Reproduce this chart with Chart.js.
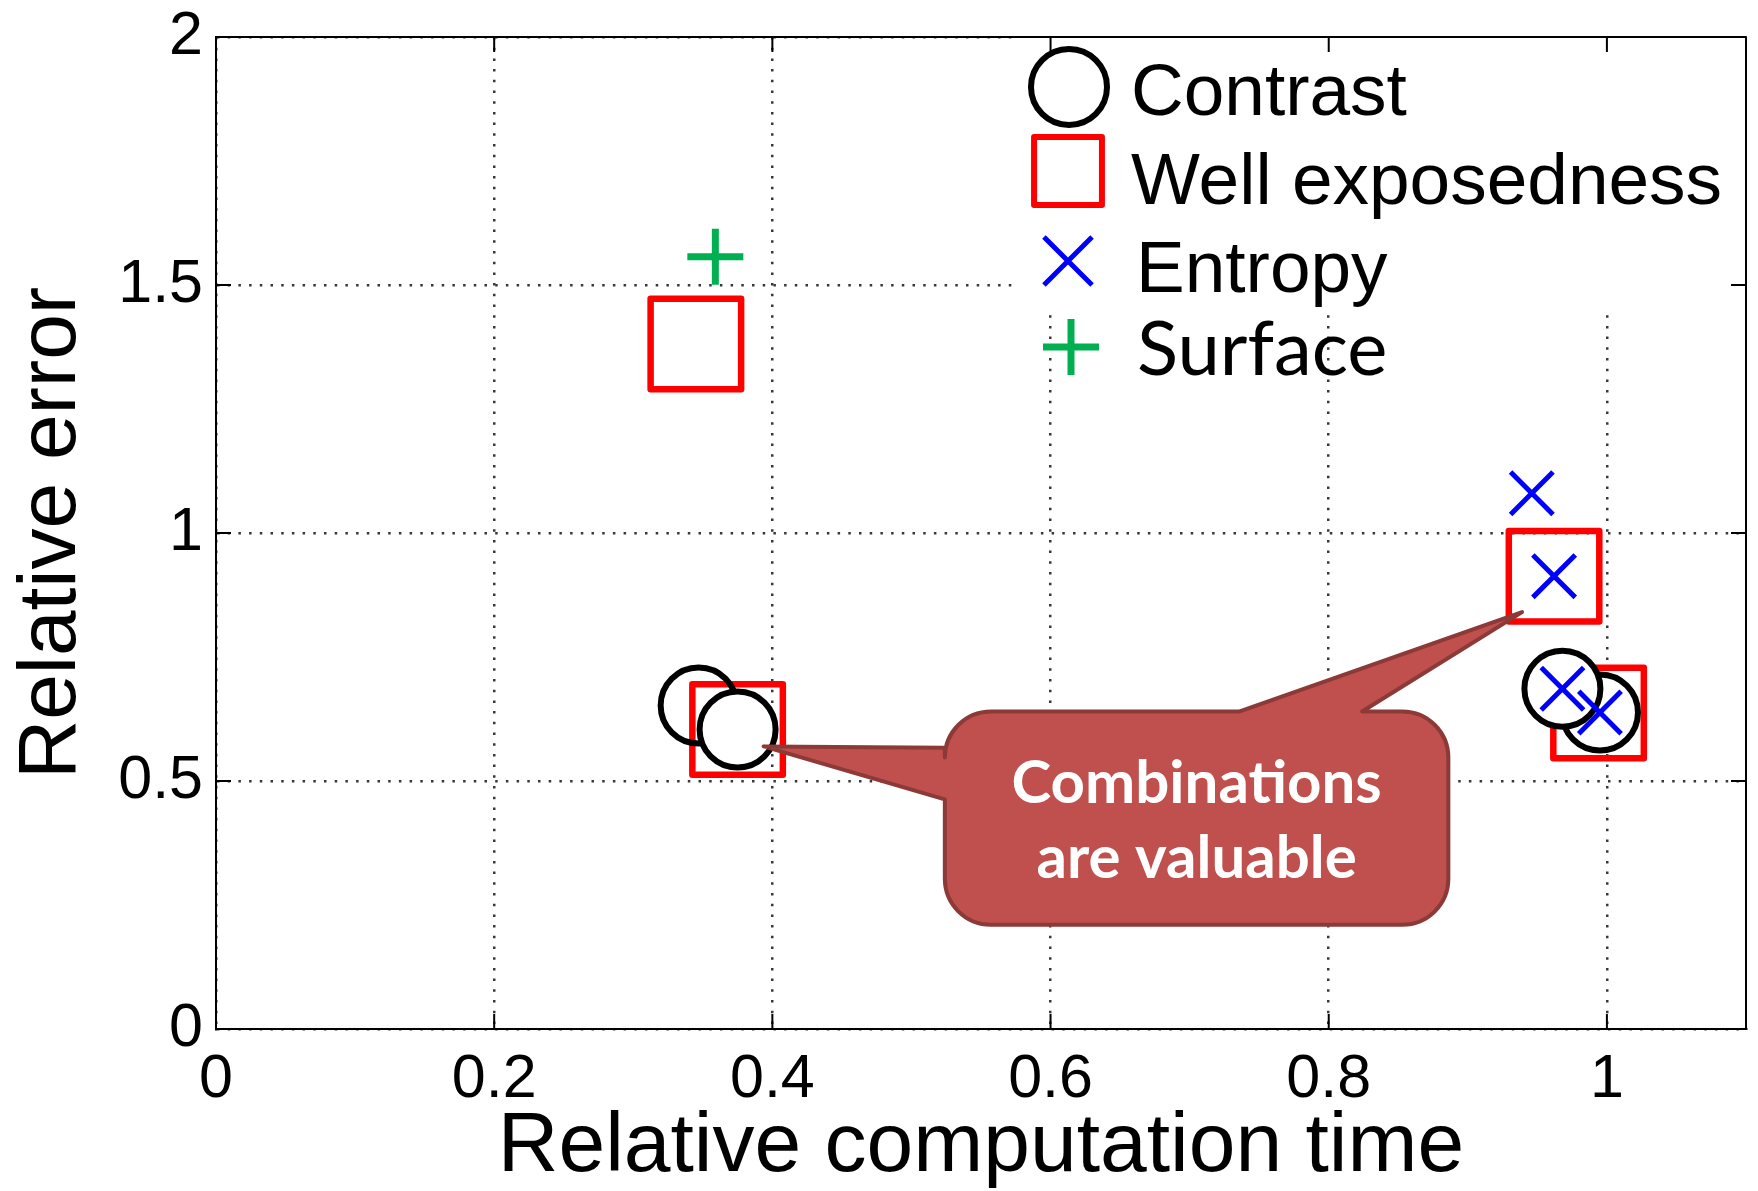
<!DOCTYPE html>
<html>
<head>
<meta charset="utf-8">
<title>Relative error vs. relative computation time</title>
<script src="https://cdn.jsdelivr.net/npm/chart.js@4.4.1/dist/chart.umd.min.js"></script>
<style>
  html, body { margin: 0; padding: 0; background: #ffffff; }
  #wrap { width: 1758px; height: 1191px; }
</style>
</head>
<body>
<div id="wrap"><canvas id="chart" width="1758" height="1191"></canvas></div>
<script>
// Relative computation time (x) and relative error (y) of each weight measure
const contrastTime  = [0.347, 0.375, 0.995, 0.968];
const contrastError = [0.652, 0.604, 0.638, 0.686];

const wellExpTime  = [0.345, 0.375, 0.962, 0.994];
const wellExpError = [1.381, 0.604, 0.913, 0.637];

const entropyTime  = [0.946, 0.962, 0.968, 0.995];
const entropyError = [1.080, 0.913, 0.686, 0.638];

const surfaceTime  = [0.359];
const surfaceError = [1.557];

const seriesNames = ['Contrast', 'Well exposedness', 'Entropy', 'Surface'];
const xTickValues = [0, 0.2, 0.4, 0.6, 0.8, 1];
const yTickValues = [0, 0.5, 1, 1.5, 2];
const xTitle = 'Relative computation time';
const yTitle = 'Relative error';
const calloutLines = ['Combinations', 'are valuable'];

const SANS = "'Liberation Sans', Arial, Helvetica, sans-serif";
Chart.defaults.font.family = SANS;
Chart.defaults.color = '#000000';

const toPoints = (xs, ys) => xs.map((x, i) => ({ x: x, y: ys[i] }));

const datasets = [
  {
    label: seriesNames[0],
    data: toPoints(contrastTime, contrastError),
    pointStyle: 'circle',
    pointRadius: 38, pointHoverRadius: 38,
    pointBorderWidth: 6, pointHoverBorderWidth: 6,
    pointBorderColor: '#000000',
    pointBackgroundColor: ['rgba(255,255,255,0)', '#ffffff', '#ffffff', '#ffffff'],
    showLine: false,
    order: 2
  },
  {
    label: seriesNames[1],
    data: toPoints(wellExpTime, wellExpError),
    pointStyle: 'rect',
    pointRadius: 64, pointHoverRadius: 64,
    pointBorderWidth: 6.5, pointHoverBorderWidth: 6.5,
    pointBorderColor: '#ff0000',
    pointBackgroundColor: 'rgba(255,255,255,0)',
    showLine: false,
    order: 3
  },
  {
    label: seriesNames[2],
    data: toPoints(entropyTime, entropyError),
    pointStyle: 'crossRot',
    pointRadius: 30, pointHoverRadius: 30,
    pointBorderWidth: 5, pointHoverBorderWidth: 5,
    pointBorderColor: '#0000ff',
    pointBackgroundColor: 'rgba(0,0,0,0)',
    showLine: false,
    order: 1
  },
  {
    label: seriesNames[3],
    data: toPoints(surfaceTime, surfaceError),
    pointStyle: 'cross',
    pointRadius: 28, pointHoverRadius: 28,
    pointBorderWidth: 7, pointHoverBorderWidth: 7,
    pointBorderColor: '#00b050',
    pointBackgroundColor: 'rgba(0,0,0,0)',
    showLine: false,
    order: 0
  }
];

// Axis sizes are fixed so the plot box sits where the layout padding says
const fixBox = (size) => (s) => {
  if (s.isHorizontal()) s.height = size; else s.width = size;
  s.paddingTop = 0; s.paddingBottom = 0; s.paddingLeft = 0; s.paddingRight = 0;
};

// Legend drawn inside the plot, top right, on a white patch that hides the grid
const legendPlugin = {
  id: 'insideLegend',
  beforeDatasetsDraw(chart, args, opts) {
    const { ctx, chartArea } = chart;
    ctx.save();
    ctx.fillStyle = '#ffffff';
    ctx.fillRect(chartArea.right - opts.boxWidth, chartArea.top,
                 opts.boxWidth, opts.boxHeight);
    ctx.restore();
    ctx.lineJoin = 'round';
  },
  afterDraw(chart, args, opts) {
    const { ctx, chartArea } = chart;
    const left = chartArea.right - opts.boxWidth;
    opts.rows.forEach((row, i) => {
      const ds = chart.data.datasets[i];
      const cx = left + row.markerX;
      const cy = chartArea.top + row.markerY;
      ctx.save();
      ctx.lineJoin = 'round';
      ctx.strokeStyle = ds.pointBorderColor;
      ctx.fillStyle = 'rgba(255,255,255,0)';
      ctx.lineWidth = row.lineWidth;
      Chart.helpers.drawPoint(ctx, {
        pointStyle: ds.pointStyle, radius: row.radius, rotation: 0, borderWidth: row.lineWidth
      }, cx, cy);
      ctx.fillStyle = '#000000';
      ctx.font = row.font;
      ctx.textAlign = 'left';
      ctx.textBaseline = 'alphabetic';
      ctx.fillText(ds.label, left + row.textX, chartArea.top + row.baseline);
      ctx.restore();
    });
  }
};

// Full box around the plot with inward tick marks on all four sides
const framePlugin = {
  id: 'frame',
  afterDraw(chart, args, opts) {
    const { ctx, chartArea, scales } = chart;
    const { left, right, top, bottom } = chartArea;
    ctx.save();
    ctx.strokeStyle = '#000000';
    ctx.lineWidth = opts.lineWidth;
    ctx.lineCap = 'butt';
    ctx.strokeRect(left, top, right - left, bottom - top);
    ctx.beginPath();
    scales.x.ticks.forEach(t => {
      const px = scales.x.getPixelForValue(t.value);
      ctx.moveTo(px, bottom); ctx.lineTo(px, bottom - opts.tick);
      ctx.moveTo(px, top);    ctx.lineTo(px, top + opts.tick);
    });
    scales.y.ticks.forEach(t => {
      const py = scales.y.getPixelForValue(t.value);
      ctx.moveTo(left, py);  ctx.lineTo(left + opts.tick, py);
      ctx.moveTo(right, py); ctx.lineTo(right - opts.tick, py);
    });
    ctx.stroke();
    ctx.restore();
  }
};

// Speech-bubble note pointing at two of the combined measures
const calloutPlugin = {
  id: 'callout',
  afterDraw(chart, args, opts) {
    const { ctx, scales } = chart;
    const xs = scales.x, ys = scales.y;
    const L = xs.getPixelForValue(opts.box.x0), R = xs.getPixelForValue(opts.box.x1);
    const T = ys.getPixelForValue(opts.box.y1), B = ys.getPixelForValue(opts.box.y0);
    const r = opts.radius;
    const tip = (t) => {
      const el = chart.getDatasetMeta(t.dataset).data[t.index];
      return { x: el.x + t.dx, y: el.y + t.dy };
    };
    const tipLeft = tip(opts.tips[0]);
    const tipTop = tip(opts.tips[1]);
    const topA = xs.getPixelForValue(opts.topBase[0]);
    const topB = xs.getPixelForValue(opts.topBase[1]);
    const leftHi = ys.getPixelForValue(opts.leftBase[0]);
    const leftLo = ys.getPixelForValue(opts.leftBase[1]);

    ctx.save();
    ctx.beginPath();
    ctx.moveTo(L + r, T);
    ctx.lineTo(topA, T);
    ctx.lineTo(tipTop.x, tipTop.y);
    ctx.lineTo(topB, T);
    ctx.lineTo(R - r, T);
    ctx.arcTo(R, T, R, T + r, r);
    ctx.lineTo(R, B - r);
    ctx.arcTo(R, B, R - r, B, r);
    ctx.lineTo(L + r, B);
    ctx.arcTo(L, B, L, B - r, r);
    ctx.lineTo(L, leftLo);
    ctx.lineTo(tipLeft.x, tipLeft.y);
    ctx.lineTo(L, leftHi);
    ctx.lineTo(L, T + r);
    ctx.arcTo(L, T, L + r, T, r);
    ctx.closePath();
    ctx.fillStyle = opts.fill;
    ctx.fill();
    ctx.lineJoin = 'round';
    ctx.lineWidth = opts.lineWidth;
    ctx.strokeStyle = opts.stroke;
    ctx.stroke();

    ctx.fillStyle = '#ffffff';
    ctx.font = opts.font;
    ctx.textAlign = 'center';
    ctx.textBaseline = 'alphabetic';
    const cx = (L + R) / 2, cy = (T + B) / 2;
    calloutLines.forEach((line, i) => {
      ctx.fillText(line, cx, cy + opts.baselines[i]);
    });
    ctx.restore();
  }
};

new Chart(document.getElementById('chart'), {
  type: 'scatter',
  data: { datasets: datasets },
  options: {
    responsive: false,
    animation: false,
    events: [],
    devicePixelRatio: 1,
    layout: { autoPadding: false, padding: { left: 0, top: 37, right: 12, bottom: 0 } },
    scales: {
      x: {
        type: 'linear',
        position: 'bottom',
        min: 0, max: 1.1,
        afterBuildTicks: (s) => { s.ticks = xTickValues.map(v => ({ value: v })); },
        afterFit: fixBox(162),
        ticks: {
          font: { size: 61 }, color: '#000000', padding: 15,
          maxRotation: 0, autoSkip: false,
          callback: (v) => String(v)
        },
        grid: { color: '#383838', lineWidth: 2.5, drawTicks: false },
        border: { display: true, color: '#000000', width: 2, dash: [2.5, 8.2] },
        title: {
          display: true, text: xTitle, color: '#000000',
          font: { size: 84, lineHeight: 1.02 }, padding: { top: 0, bottom: 0 }
        }
      },
      y: {
        type: 'linear',
        position: 'left',
        min: 0, max: 2,
        afterBuildTicks: (s) => { s.ticks = yTickValues.map(v => ({ value: v })); },
        afterFit: fixBox(216),
        ticks: {
          font: { size: 61 }, color: '#000000', padding: 13,
          callback: (v) => String(v)
        },
        grid: { color: '#383838', lineWidth: 2.5, drawTicks: false },
        border: { display: true, color: '#000000', width: 2, dash: [2.5, 8.2] },
        title: {
          display: true, text: yTitle, color: '#000000',
          font: { size: 82, lineHeight: 1.2 }, padding: { top: 3, bottom: 0 }
        }
      }
    },
    plugins: {
      legend: { display: false },
      tooltip: { enabled: false },
      insideLegend: {
        boxWidth: 734,
        boxHeight: 271,
        rows: [
          { markerX: 57, markerY: 50,  radius: 38, lineWidth: 6,   textX: 119, baseline: 78,  font: "73px " + SANS },
          { markerX: 56, markerY: 134, radius: 48, lineWidth: 6,   textX: 119, baseline: 167, font: "73px " + SANS },
          { markerX: 56, markerY: 224, radius: 34, lineWidth: 5,   textX: 124, baseline: 255, font: "73px " + SANS },
          { markerX: 59, markerY: 310, radius: 28, lineWidth: 7,   textX: 125, baseline: 338, font: "76px Lato, 'Open Sans', sans-serif" }
        ]
      },
      frame: { lineWidth: 2, tick: 15 },
      callout: {
        box: { x0: 0.524, x1: 0.886, y0: 0.210, y1: 0.640 },
        radius: 46,
        topBase: [0.7355, 0.824],
        leftBase: [0.567, 0.463],
        tips: [
          { dataset: 0, index: 1, dx: 26, dy: 17 },
          { dataset: 1, index: 2, dx: -32, dy: 36 }
        ],
        fill: '#c0504d',
        stroke: '#8c3a38',
        lineWidth: 4,
        font: "bold 60px Lato, 'Open Sans', sans-serif",
        baselines: [-15.7, 59.5]
      }
    }
  },
  plugins: [legendPlugin, framePlugin, calloutPlugin]
});
</script>
</body>
</html>
